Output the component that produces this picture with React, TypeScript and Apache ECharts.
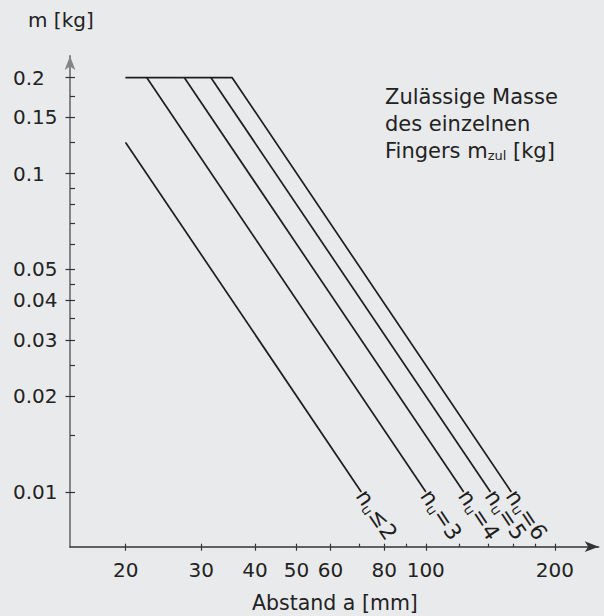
import React, { useEffect, useRef } from "react";
import * as echarts from "echarts";

const xMajorTicks = [20, 30, 40, 50, 60, 80, 100, 200];
const xMinorTicks = [70, 90, 120, 140, 160, 180];
const yMajorTicks = [0.2, 0.15, 0.1, 0.05, 0.04, 0.03, 0.02, 0.01];
const yMinorTicks = [0.175, 0.125, 0.09, 0.08, 0.07, 0.06, 0.045, 0.035, 0.025, 0.015];

const lineNu2 = [[20, 0.125], [70.7, 0.01]];
const lineNu3 = [[22.4, 0.2], [100, 0.01]];
const lineNu4 = [[27.4, 0.2], [122.5, 0.01]];
const lineNu5 = [[31.6, 0.2], [141.4, 0.01]];
const lineNu6 = [[20, 0.2], [35.4, 0.2], [158.1, 0.01]];
const lineNames = ["≤2", "=3", "=4", "=5", "=6"];

const X_MIN = 14.83;
const X_MAX = 252.9;
const Y_MIN = 0.00672;
const Y_MAX = 0.234;

const FONT = "DejaVu Sans";
const INK = "#1e1e1e";
const BG = "#e9eaec";

export default function App() {
  const ref = useRef<HTMLDivElement>(null);
  useEffect(() => {
    if (!ref.current) return;
    const chart = echarts.init(ref.current, undefined, { renderer: "svg" });
    const all = [...xMajorTicks, ...xMinorTicks];
    const allY = [...yMajorTicks, ...yMinorTicks];
    const lines = [lineNu2, lineNu3, lineNu4, lineNu5, lineNu6];
    const series = lines.map((pts, i) => ({
      type: "line",
      xAxisIndex: 0,
      yAxisIndex: 0,
      symbol: "circle",
      symbolSize: 1,
      showSymbol: true,
      itemStyle: { color: INK },
      lineStyle: { color: INK, width: 1.7 },
      silent: true,
      data: pts.map((p, j) =>
        j === pts.length - 1
          ? {
              value: p,
              label: {
                show: true,
                position: "inside",
                align: "left",
                verticalAlign: "middle",
                rotate: -56,
                formatter: "{n|n}{u|u}{n|" + lineNames[i] + "}",
                rich: {
                  n: { fontFamily: FONT, fontSize: 22, color: INK, lineHeight: 24 },
                  u: { fontFamily: FONT, fontSize: 14, color: INK, lineHeight: 24, verticalAlign: "bottom", padding: [5, 0, 0, 0] },
                },
              },
            }
          : p
      ),
    }));
    chart.setOption({
      animation: false,
      backgroundColor: BG,
      grid: { left: 70, right: 5.3, top: 56, bottom: 69.3 },
      xAxis: [
        {
          type: "log",
          min: X_MIN,
          max: X_MAX,
          position: "bottom",
          axisLine: {
            show: true,
            lineStyle: { color: "#333", width: 1.5 },
            symbol: ["none", "arrow"],
            symbolSize: [8, 14],
          },
          axisTick: { show: true, inside: false, length: 4, lineStyle: { color: "#333", width: 1.2 }, customValues: xMajorTicks },
          axisLabel: {
            show: true,
            margin: 13,
            fontFamily: FONT,
            fontSize: 20,
            color: "#222",
            customValues: xMajorTicks,
            formatter: (v: number) => String(Math.round(v)),
          },
          splitLine: { show: false },
          minorTick: { show: false },
        },
        {
          type: "log",
          min: X_MIN,
          max: X_MAX,
          position: "bottom",
          axisLine: { show: false },
          axisTick: { show: true, inside: true, length: 3, lineStyle: { color: "#333", width: 1.2 }, customValues: all },
          axisLabel: { show: false },
          splitLine: { show: false },
        },
      ],
      yAxis: [
        {
          type: "log",
          min: Y_MIN,
          max: Y_MAX,
          position: "left",
          axisLine: {
            show: true,
            lineStyle: { color: "#858585", width: 2 },
            symbol: ["none", "arrow"],
            symbolSize: [8, 14],
          },
          axisTick: { show: true, inside: false, length: 4.5, lineStyle: { color: "#333", width: 1.2 }, customValues: yMajorTicks },
          axisLabel: {
            show: true,
            align: "left",
            margin: 57,
            fontFamily: FONT,
            fontSize: 20,
            color: "#222",
            customValues: yMajorTicks,
            formatter: (v: number) => {
              const m = yMajorTicks.find((t) => Math.abs(t - v) / t < 1e-3);
              return String(m ?? v);
            },
          },
          splitLine: { show: false },
        },
        {
          type: "log",
          min: Y_MIN,
          max: Y_MAX,
          position: "left",
          axisLine: { show: false },
          axisTick: { show: true, inside: true, length: 5, lineStyle: { color: "#333", width: 1.2 }, customValues: allY },
          axisLabel: { show: false },
          splitLine: { show: false },
        },
      ],
      graphic: [
        {
          type: "text",
          left: 28,
          top: 10,
          style: { text: "m [kg]", fontFamily: FONT, fontSize: 20, fill: "#222" },
        },
        {
          type: "text",
          left: 252,
          top: 592,
          style: { text: "Abstand a [mm]", fontFamily: FONT, fontSize: 20.5, fill: "#222" },
        },
        {
          type: "text",
          left: 385,
          top: 86,
          style: {
            text: "{a|Zulässige Masse}\n{a|des einzelnen}\n{a|Fingers m}{s|zul}{a| [kg]}",
            rich: {
              a: { fontFamily: FONT, fontSize: 21, fill: "#222", lineHeight: 27 },
              s: { fontFamily: FONT, fontSize: 13, fill: "#222", lineHeight: 27, verticalAlign: "bottom", padding: [0, 0, 2, 0] },
            },
          },
        },
      ],
      series,
    });
    return () => chart.dispose();
  }, []);
  return (
    <div
      ref={ref}
      style={{ position: "fixed", left: 0, top: 0, width: 604, height: 616, background: BG }}
    />
  );
}
